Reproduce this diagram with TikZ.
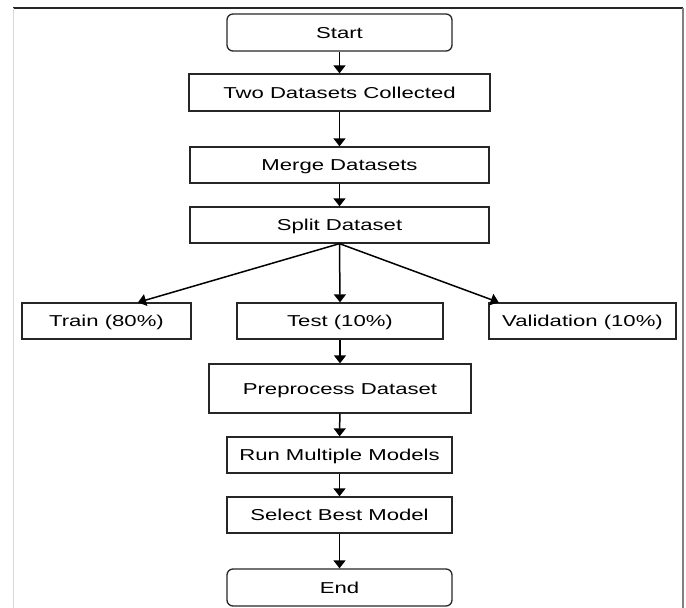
\documentclass[tikz,border=0pt]{standalone}
\usepackage{fontspec}
\setmainfont{Liberation Sans}[FakeStretch=1.4]
\usetikzlibrary{arrows.meta}
\usetikzlibrary{calc}
\tikzset{>={Triangle[width=12pt,length=8pt]}}
\tikzset{%
  stepbox/.style={draw=black!85, line width=1.3pt, inner sep=0pt,
    text height=11.4pt, text depth=0pt,
    font=\fontsize{15.8}{18}\selectfont},
  termbox/.style={stepbox, rounded corners=6pt},
  flow/.style={->, line width=1.5pt},
}

\begin{document}
\begin{tikzpicture}[x=1pt,y=-1pt]

  % page size as in the picture
  \useasboundingbox (0,0) rectangle (686,608);

  % frame round the figure (runs off at the bottom)
  \draw[black!85, line width=1.2pt] (13,8) -- (683,8);
  \draw[gray, line width=1.2pt] (683,8) -- (683,608);
  \draw[black!15, line width=1pt] (13,8) -- (13,608);

  % main column
  \node[termbox, minimum width=225pt, minimum height=37pt] (start) at (339.5,32.5) {Start};
  \node[stepbox, minimum width=301pt, minimum height=37pt] (collect) at (339.5,92.5) {Two Datasets Collected};
  \node[stepbox, minimum width=299pt, minimum height=36pt] (merge) at (339.5,165) {Merge Datasets};
  \node[stepbox, minimum width=299pt, minimum height=36pt] (split) at (339.5,225) {Split Dataset};

  % the three parts of the split
  \node[stepbox, minimum width=169pt, minimum height=36pt] (train) at (106.5,321) {Train (80\%)};
  \node[stepbox, minimum width=206pt, minimum height=36pt] (test) at (340,321) {Test (10\%)};
  \node[stepbox, minimum width=187pt, minimum height=36pt] (valid) at (582.5,321) {Validation (10\%)};

  % rest of the column
  \node[stepbox, minimum width=262pt, minimum height=49pt] (prep) at (340,388.5) {Preprocess Dataset};
  \node[stepbox, minimum width=225pt, minimum height=36pt] (run) at (339.5,455) {Run Multiple Models};
  \node[stepbox, minimum width=225pt, minimum height=36pt] (best) at (339.5,515) {Select Best Model};
  \node[termbox, minimum width=225pt, minimum height=37pt] (end) at (339.5,587.5) {End};

  % arrows
  \draw[flow] (start) -- (collect);
  \draw[flow] (collect) -- (merge);
  \draw[flow] (merge) -- (split);
  \draw[flow] (split.south) -- ($(train.north)!0.37!(train.north east)$);
  \draw[flow] (split.south) -- (test.north);
  \draw[flow] (split.south) -- ($(valid.north)!0.89!(valid.north west)$);
  \draw[flow] (test) -- (prep);
  \draw[flow] (prep) -- (run);
  \draw[flow] (run) -- (best);
  \draw[flow] (best) -- (end);

\end{tikzpicture}
\end{document}
